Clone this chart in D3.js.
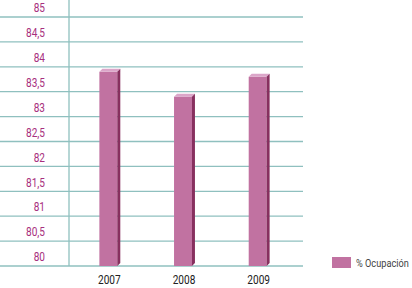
<!DOCTYPE html>
<html>
<head>
<meta charset="utf-8">
<script src="https://cdn.jsdelivr.net/npm/d3@7"></script>
<style>
  body { margin: 0; background: #fff; }
  text { font-family: "Liberation Sans Narrow", "Roboto", sans-serif; }
</style>
</head>
<body>
<div id="chart"></div>
<script>
// Data
const years = ["2007", "2008", "2009"];
const ocupacion = [83.9, 83.4, 83.8];
const yTicks = [80, 80.5, 81, 81.5, 82, 82.5, 83, 83.5, 84, 84.5, 85];
const seriesName = "% Ocupación";

const width = 412, height = 288;
const depth = 3; // fake 3D offset
const squeeze = 0.84; // the original uses a condensed face

const svg = d3.select("#chart").append("svg")
    .attr("width", width)
    .attr("height", height);

// y scale for the gridlines / bars
const y = d3.scaleLinear()
    .domain([80, 85])
    .range([266, 17]);

// x scale
const x = d3.scaleBand()
    .domain(years)
    .range([71, 295])
    .paddingInner(0.76)
    .paddingOuter(0.38);

// gridlines
svg.append("g")
    .selectAll("line")
    .data(yTicks)
    .join("line")
    .attr("x1", 0)
    .attr("x2", 303)
    .attr("y1", d => y(d))
    .attr("y2", d => y(d))
    .attr("stroke", "#8fc0bf")
    .attr("stroke-width", 1.3);

// vertical axis line
svg.append("line")
    .attr("x1", 69).attr("x2", 69)
    .attr("y1", 0).attr("y2", y(80))
    .attr("stroke", "#8fc0bf")
    .attr("stroke-width", 1.3);

// y labels (sit in the band above each line, comma decimals)
const fmt = d => String(d).replace(".", ",");
svg.append("g")
    .selectAll("text")
    .data(yTicks)
    .join("text")
    .attr("transform", d => `translate(45,${y(d) - 9}) scale(${squeeze},1)`)
    .attr("dy", "0.35em")
    .attr("text-anchor", "end")
    .attr("font-size", 12)
    .attr("fill", "#a8307e")
    .text(fmt);

// bars with a small 3D look
const bars = svg.append("g")
    .selectAll("g")
    .data(years.map((yr, i) => ({ yr, v: ocupacion[i] })))
    .join("g");

bars.append("rect")
    .attr("x", d => x(d.yr))
    .attr("y", d => y(d.v))
    .attr("width", x.bandwidth())
    .attr("height", d => y(80) - y(d.v))
    .attr("fill", "#c172a1");

// top face
bars.append("path")
    .attr("d", d => {
        const x0 = x(d.yr), x1 = x0 + x.bandwidth(), t = y(d.v);
        return `M${x0},${t}L${x0 + depth},${t - depth}L${x1 + depth},${t - depth}L${x1},${t}Z`;
    })
    .attr("fill", "#dba6c9");

// side face
bars.append("path")
    .attr("d", d => {
        const x1 = x(d.yr) + x.bandwidth(), t = y(d.v), b = y(80);
        return `M${x1},${t}L${x1 + depth},${t - depth}L${x1 + depth},${b - depth}L${x1},${b}Z`;
    })
    .attr("fill", "#87305f");

// x labels
svg.append("g")
    .selectAll("text")
    .data(years)
    .join("text")
    .attr("transform", d => `translate(${x(d) + x.bandwidth() / 2 + 1},280) scale(${squeeze},1)`)
    .attr("dy", "0.35em")
    .attr("text-anchor", "middle")
    .attr("font-size", 12)
    .attr("fill", "#222")
    .text(d => d);

// legend
svg.append("rect")
    .attr("x", 332).attr("y", 257)
    .attr("width", 19).attr("height", 11)
    .attr("fill", "#c172a1");

svg.append("text")
    .attr("transform", `translate(356,262.5) scale(0.8,1)`)
    .attr("dy", "0.35em")
    .attr("font-size", 11.5)
    .attr("fill", "#444")
    .text(seriesName);
</script>
</body>
</html>
